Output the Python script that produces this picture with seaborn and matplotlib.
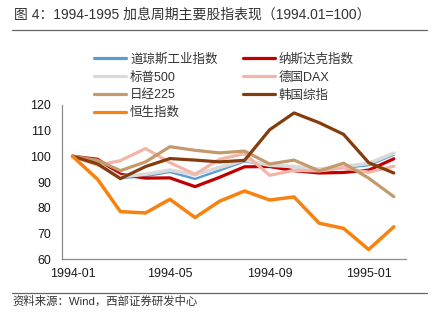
import matplotlib
matplotlib.use("Agg")
import matplotlib.pyplot as plt
import matplotlib.dates as mdates
from matplotlib.lines import Line2D
import pandas as pd
import seaborn as sns

# ---- data (1994.01 = 100), monthly observations ----
dates = ["1994-01-14", "1994-02-14", "1994-03-14", "1994-04-14", "1994-05-14",
         "1994-06-14", "1994-07-14", "1994-08-14", "1994-09-14", "1994-10-14",
         "1994-11-14", "1994-12-14", "1995-01-14", "1995-02-14"]
dow    = [100, 96.7, 91.5, 92.3, 93.9, 91.2, 94.5, 98.0, 96.3, 95.9, 94.5, 95.5, 96.5, 100.6]
nasdaq = [100, 98.8, 93.0, 91.5, 91.6, 88.2, 91.8, 95.9, 96.0, 94.4, 93.5, 93.7, 94.6, 99.0]
sp500  = [100, 97.0, 92.0, 93.0, 94.6, 92.8, 95.6, 98.5, 96.5, 96.0, 95.0, 96.0, 97.2, 101.2]
dax    = [100, 96.5, 98.3, 103.0, 97.5, 93.0, 98.8, 101.0, 92.6, 94.5, 94.3, 95.5, 93.8, 96.1]
nikkei = [100, 98.4, 94.4, 97.8, 103.7, 102.3, 101.3, 102.0, 97.0, 98.5, 94.3, 97.3, 91.5, 84.3]
kospi  = [100, 97.0, 91.3, 96.0, 99.1, 98.5, 97.8, 98.4, 110.3, 116.8, 113.0, 108.5, 97.5, 93.5]
hsi    = [100, 91.0, 78.5, 78.0, 83.3, 76.2, 82.5, 86.5, 83.0, 84.2, 74.0, 72.0, 63.8, 72.6]

names = ["道琼斯工业指数", "纳斯达克指数", "标普500", "德国DAX", "日经225", "韩国综指", "恒生指数"]
tick_marks = ["1994-01-01", "1994-05-01", "1994-09-01", "1995-01-01"]
tick_labels = ["1994-01", "1994-05", "1994-09", "1995-01"]
yticks = [60, 70, 80, 90, 100, 110, 120]

series = [dow, nasdaq, sp500, dax, nikkei, kospi, hsi]
colors = ["#5B9BD5", "#C00000", "#D9D9D9", "#F2B5A8", "#C49A6C", "#843C0C", "#F7820F"]
widths = [1.7, 2.3, 2.6, 2.3, 2.3, 2.3, 2.5]

sns.set_theme(style="white")
plt.rcParams["font.family"] = ["Liberation Sans", "Noto Sans CJK SC", "DejaVu Sans"]

fig = plt.figure(figsize=(4.36, 3.29), dpi=100)
ax = fig.add_axes([62 / 436, 1 - 259.3 / 329, 344 / 436, 154.6 / 329])

x = pd.to_datetime(dates)
handles = {}
for name, vals, c, lw in zip(names, series, colors, widths):
    sns.lineplot(x=x, y=vals, ax=ax, color=c, linewidth=lw, legend=False,
                 solid_capstyle="round", solid_joinstyle="round")
    handles[name] = Line2D([], [], color=c, linewidth=2.3)

ax.set_xlim(pd.Timestamp("1994-01-01"), pd.Timestamp("1995-03-01"))
ax.set_ylim(60, 120)
# tick marks at category boundaries, labels centred on the monthly categories
ax.set_xticks(pd.to_datetime(tick_marks))
ax.set_xticklabels([])
label_pos = [x[i] for i in (0, 4, 8, 12)]
ax.set_xticks(label_pos, minor=True)
ax.set_xticklabels(tick_labels, minor=True)
ax.set_yticks(yticks)
ax.set_xlabel("")
ax.set_ylabel("")
for s in ["top", "right"]:
    ax.spines[s].set_visible(False)
for s in ["left", "bottom"]:
    ax.spines[s].set_color("#8c8c8c")
    ax.spines[s].set_linewidth(0.9)
ax.tick_params(axis="both", which="major", direction="in", length=3, width=0.8,
               color="#8c8c8c", labelsize=8.9, labelcolor="#1a1a1a")
ax.tick_params(axis="x", which="minor", length=0, labelsize=8.9, labelcolor="#1a1a1a", pad=6)
ax.tick_params(axis="y", pad=8)
ax.grid(False)

order = ["道琼斯工业指数", "标普500", "日经225", "恒生指数", "纳斯达克指数", "德国DAX", "韩国综指"]
fig.legend([handles[n] for n in order], order, ncol=2, loc="upper left",
           bbox_to_anchor=(94 / 436, 1 - 53.5 / 329), frameon=False, fontsize=9,
           handlelength=2.56, handletextpad=0.32, columnspacing=2.0,
           labelspacing=0.46, borderpad=0, borderaxespad=0, labelcolor="#333333")

fig.text(14 / 436, 1 - 15 / 329, "图 4：1994-1995 加息周期主要股指表现（1994.01=100）",
         ha="left", va="center", fontsize=10, color="#333333")
fig.add_artist(Line2D([12 / 436, 427 / 436], [1 - 30 / 329] * 2, color="#666666", lw=0.9))
fig.add_artist(Line2D([12 / 436, 427 / 436], [1 - 293.3 / 329] * 2, color="#666666", lw=0.9))
fig.text(12 / 436, 1 - 301.5 / 329, "资料来源：Wind，西部证券研发中心",
         ha="left", va="center", fontsize=8.2, color="#333333")

fig.savefig("out.png", dpi=100)
